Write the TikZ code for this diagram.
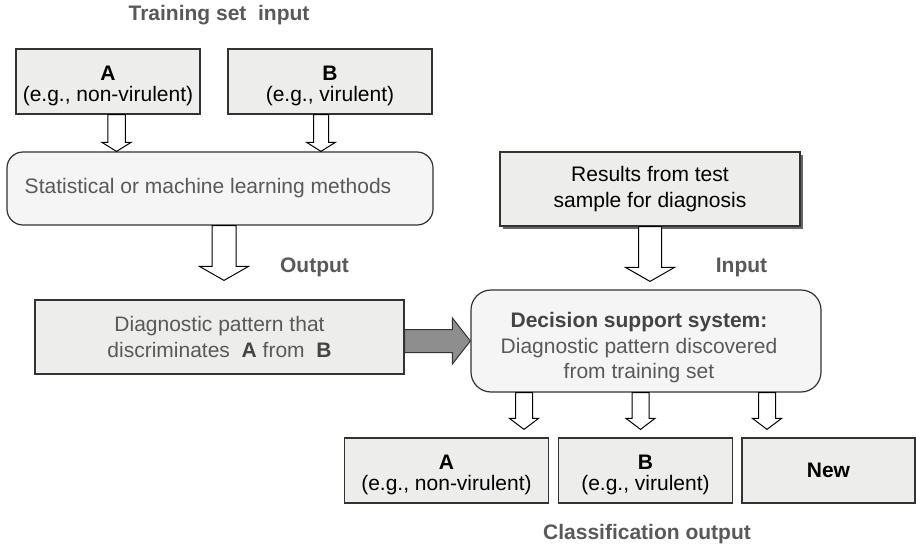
\documentclass[tikz,border=0pt]{standalone}
\usepackage{fontspec}
\setmainfont{Liberation Sans}
\usetikzlibrary{calc,shadows}
\definecolor{boxfill}{HTML}{EDEEEC}
\definecolor{roundfill}{HTML}{F5F5F5}
\definecolor{edge}{HTML}{333333}
\definecolor{softtext}{HTML}{595959}
\definecolor{boldtext}{HTML}{444444}
\definecolor{arrowgray}{HTML}{8E8E8E}
% taller first line, pushes a centred text block downwards
\newcommand{\toprule}[1]{\rule{0pt}{#1}}

\begin{document}
\begin{tikzpicture}[x=1pt,y=-1pt,
  base/.style={font=\fontsize{21}{25.5}\selectfont, align=center, inner sep=0pt},
  flatbox/.style={base, draw=edge, line width=1.2pt, fill=boxfill},
  classbox/.style={flatbox, font=\fontsize{21}{21.5}\selectfont, minimum height=65pt},
  roundbox/.style={base, draw=edge, line width=1.2pt, fill=roundfill, rounded corners=16pt},
  tag/.style={base, font=\bfseries\fontsize{21}{25.5}\selectfont, text=softtext},
  % hollow block arrow pointing down: shaft width, head width, head length
  hollowdown/.style n args={3}{draw=black, line width=1pt, fill=white, line join=miter,
    to path={let \p1=(\tikztostart), \p2=(\tikztotarget) in
      ({\x1-#1/2},\y1) -- ({\x1+#1/2},\y1) -- ({\x1+#1/2},{\y2+#3})
      -- ({\x1+#2/2},{\y2+#3}) -- (\x1,\y2) -- ({\x1-#2/2},{\y2+#3})
      -- ({\x1-#1/2},{\y2+#3}) -- cycle}},
  % solid block arrow pointing right
  solidright/.style n args={3}{draw=edge, line width=1pt, fill=arrowgray, line join=miter,
    to path={let \p1=(\tikztostart), \p2=(\tikztotarget) in
      (\x1,{\y1+#1/2}) -- ({\x2-#3},{\y1+#1/2}) -- ({\x2-#3},{\y1+#2/2})
      -- (\x2,\y1) -- ({\x2-#3},{\y1-#2/2}) -- ({\x2-#3},{\y1-#1/2})
      -- (\x1,{\y1-#1/2}) -- cycle}}
]
\path[use as bounding box, fill=white] (0,0) rectangle (916,548);

% training set
\node[tag] (trainlbl) at (219,15) {Training set \ input};
\node[classbox, minimum width=184pt] (boxA) at (108,81.5)
  {\toprule{23.4pt}\textbf{A}\\(e.g., non-virulent)};
\node[classbox, minimum width=204pt] (boxB) at (330,81.5)
  {\toprule{23.4pt}\textbf{B}\\(e.g., virulent)};

% learning step
\node[roundbox, minimum width=426pt, minimum height=73pt, text=softtext] (stat) at (220,188.5)
  {\hspace*{-24pt}Statistical or machine learning methods};
\node[tag] (outlbl) at (314.5,267) {Output};
\node[flatbox, minimum width=369pt, minimum height=74pt, text=softtext] (diag) at (219.5,337)
  {Diagnostic pattern that\\discriminates \ {\color{boldtext}\textbf{A}} from \ {\color{boldtext}\textbf{B}}};

% test sample and decision system
\node[flatbox, minimum width=300pt, minimum height=74pt,
  drop shadow={shadow xshift=3pt, shadow yshift=-3pt, fill=black!60, opacity=1}]
  (results) at (650,189) {Results from test\\sample for diagnosis};
\node[tag] (inlbl) at (741.5,267) {Input};
\node[roundbox, minimum width=350pt, minimum height=102pt, rounded corners=20pt, text=softtext]
  (decision) at (646,341)
  {\hspace*{-14pt}\begin{tabular}{@{}c@{}}\toprule{31.85pt}{\color{boldtext}\textbf{Decision support system:}}\\
   Diagnostic pattern discovered\\from training set\end{tabular}};

% classification output
\node[classbox, minimum width=204pt] (outA) at (446.5,470.5)
  {\toprule{23.4pt}\textbf{A}\\(e.g., non-virulent)};
\node[classbox, minimum width=174pt] (outB) at (645.5,470.5)
  {\toprule{23.4pt}\textbf{B}\\(e.g., virulent)};
\node[classbox, minimum width=173pt] (outNew) at (828.5,470.5)
  {\textbf{New}};
\node[tag] (classlbl) at (647,534) {Classification output};

% arrow end points
\coordinate (a1) at ([xshift=8.5pt]boxA.south);
\coordinate (a2) at (a1 |- stat.north);
\coordinate (b1) at ([xshift=-9pt]boxB.south);
\coordinate (b2) at (b1 |- stat.north);
\coordinate (o1) at ([xshift=4pt]stat.south);
\coordinate (o2) at ([yshift=19pt]o1 |- diag.north);
\coordinate (i1) at (results.south);
\coordinate (i2) at ([yshift=8pt]i1 |- decision.north);
\coordinate (d1) at ([yshift=-4pt]diag.east);
\coordinate (d2) at (d1 -| decision.west);
\coordinate (c1) at ([xshift=-122pt]decision.south);
\coordinate (c2) at ([yshift=8pt]c1 |- outA.north);
\coordinate (e1) at ([xshift=-5.5pt]decision.south);
\coordinate (e2) at ([yshift=8pt]e1 |- outB.north);
\coordinate (f1) at ([xshift=121pt]decision.south);
\coordinate (f2) at ([yshift=8pt]f1 |- outNew.north);

% arrows
\draw[hollowdown={17.5pt}{29pt}{9pt}] (a1) to (a2);
\draw[hollowdown={15pt}{28.5pt}{9pt}] (b1) to (b2);
\draw[hollowdown={24pt}{49pt}{14pt}] (o1) to (o2);
\draw[hollowdown={23pt}{49pt}{14pt}] (i1) to (i2);
\draw[solidright={23pt}{46pt}{18pt}] (d1) to (d2);
\draw[hollowdown={17pt}{29pt}{11pt}] (c1) to (c2);
\draw[hollowdown={17pt}{29pt}{11pt}] (e1) to (e2);
\draw[hollowdown={17pt}{29pt}{11pt}] (f1) to (f2);
\end{tikzpicture}
\end{document}
